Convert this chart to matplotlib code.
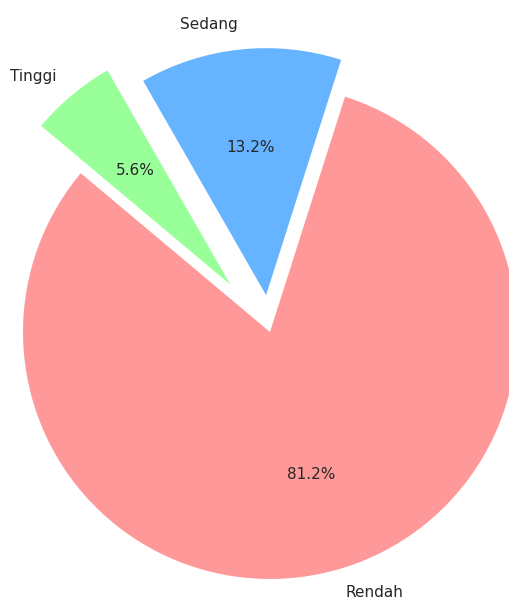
import matplotlib.pyplot as plt

labels = ['Rendah', 'Sedang', 'Tinggi']
shares = [81.2, 13.2, 5.6]
colors = ['#ff9999', '#66b3ff', '#99ff99']
explode = [0, 0.15, 0.25]

W, H = 509, 599
# pie centre in pixels (from top-left) and radius in pixels
cx, cy, rad = 270, 332, 247

fig = plt.figure(figsize=(W / 100, H / 100), dpi=100)
ax = fig.add_axes([0, 0, 1, 1])

wedges, texts, autotexts = ax.pie(
    shares, labels=labels, colors=colors, explode=explode,
    autopct='%1.1f%%', startangle=140,
    textprops={'fontsize': 11, 'color': '#262626'},
)

ax.set_aspect('auto')
ax.set_xlim(-cx / rad, (W - cx) / rad)
ax.set_ylim(-(H - cy) / rad, cy / rad)
ax.axis('off')

plt.savefig('out.png', dpi=100)
